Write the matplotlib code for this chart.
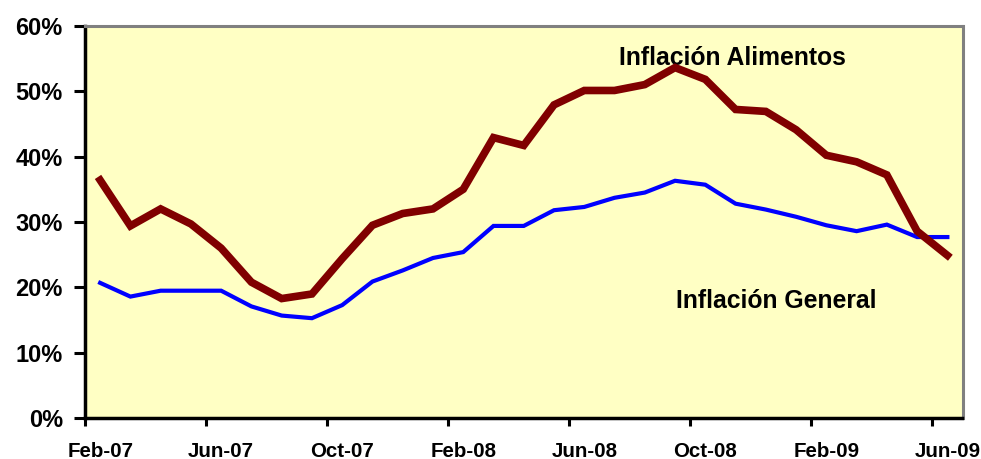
import numpy as np
import matplotlib
matplotlib.use("Agg")
import matplotlib.pyplot as plt
from matplotlib.ticker import FixedLocator, FuncFormatter

plt.rcParams['font.family'] = ['Liberation Sans', 'DejaVu Sans']

# monthly series Feb-07 .. Jun-09 (29 months)
months = ['Feb-07', 'Mar-07', 'Apr-07', 'May-07', 'Jun-07', 'Jul-07', 'Aug-07', 'Sep-07',
          'Oct-07', 'Nov-07', 'Dec-07', 'Jan-08', 'Feb-08', 'Mar-08', 'Apr-08', 'May-08',
          'Jun-08', 'Jul-08', 'Aug-08', 'Sep-08', 'Oct-08', 'Nov-08', 'Dec-08', 'Jan-09',
          'Feb-09', 'Mar-09', 'Apr-09', 'May-09', 'Jun-09']
alimentos = [36.4, 29.4, 32.0, 29.7, 26.0, 20.8, 18.3, 19.0, 24.4, 29.5, 31.3, 32.0, 35.0,
             42.9, 41.7, 47.9, 50.1, 50.1, 51.0, 53.6, 51.8, 47.2, 46.9, 44.1, 40.2, 39.2,
             37.2, 28.6, 24.9]
general = [20.7, 18.6, 19.5, 19.5, 19.5, 17.1, 15.7, 15.3, 17.3, 20.9, 22.6, 24.5, 25.4,
           29.4, 29.4, 31.8, 32.3, 33.7, 34.5, 36.3, 35.7, 32.8, 31.9, 30.8, 29.5, 28.6,
           29.6, 27.7, 27.7]

fig = plt.figure(figsize=(9.81, 4.59), dpi=100)
ax = fig.add_axes([85/981, (459-418.3)/459, (962.5-85)/981, (418.3-25.7)/459])
ax.set_facecolor('#FFFFC4')

x = np.arange(len(months))
ax.plot(x, general, color='#0000FF', lw=3.0, solid_joinstyle='miter', zorder=3)
ax.plot(x, alimentos, color='#800000', lw=5.5, solid_joinstyle='miter', zorder=4)

ax.set_xlim(-0.5, len(months) - 0.5)
ax.set_ylim(0, 60)

# category axis: labels on categories, tick marks on boundaries
lab_idx = list(range(0, len(months), 4))
ax.xaxis.set_major_locator(FixedLocator(lab_idx))
ax.set_xticklabels([months[i] for i in lab_idx])
ax.xaxis.set_minor_locator(FixedLocator([i - 0.5 for i in lab_idx]))
ax.tick_params(axis='x', which='major', length=0, pad=17, labelsize=14.8)
ax.tick_params(axis='x', which='minor', length=6, width=2.2, direction='out')
for t in ax.get_xticklabels():
    t.set_fontweight('bold')

ax.set_yticks(np.arange(0, 61, 10))
ax.yaxis.set_major_formatter(FuncFormatter(lambda v, p: '%d%%' % v))
ax.tick_params(axis='y', length=8, width=2.2, direction='out', pad=8, labelsize=17)
for t in ax.get_yticklabels():
    t.set_fontweight('bold')

for s in ['left', 'bottom']:
    ax.spines[s].set_color('black')
    ax.spines[s].set_linewidth(2.5)
for s in ['top', 'right']:
    ax.spines[s].set_color('#808080')
    ax.spines[s].set_linewidth(2.2)

ax.text(20.9, 55.1, 'Inflación Alimentos', fontsize=17.8, fontweight='bold', ha='center', va='center')
ax.text(22.34, 17.9, 'Inflación General', fontsize=17.8, fontweight='bold', ha='center', va='center')

fig.savefig('out.png', dpi=100)
